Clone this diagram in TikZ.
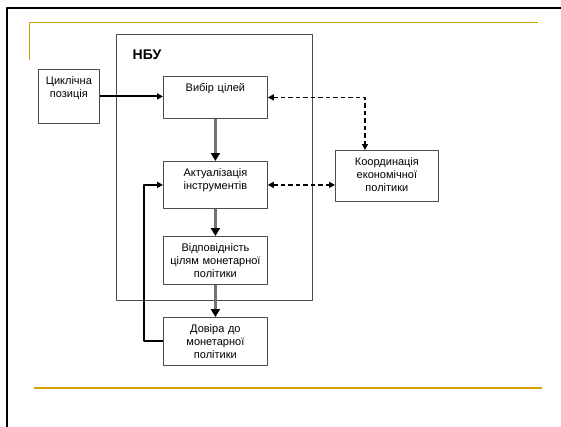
\documentclass[tikz,border=0pt]{standalone}
\usepackage{fontspec}
\setmainfont{Liberation Sans}
\usetikzlibrary{arrows.meta,shadows}
\definecolor{zoloto}{RGB}{212,160,0}
\tikzset{
  blok/.style={draw=black!70, line width=.8pt, fill=white, anchor=north west, align=center,
    inner sep=4pt, text height=11pt, font=\fontsize{11}{13.2}\selectfont,
    drop shadow={shadow xshift=1pt, shadow yshift=-1pt, fill=black!35, opacity=1}},
  suvora/.style={-{Triangle[length=6pt,width=6pt]}, line width=2pt},
  sira/.style={-{Triangle[length=8pt,width=9pt,color=black]}, draw=black!55, line width=2.2pt},
  punktyr/.style={{Triangle[length=6pt,width=6pt]}-{Triangle[length=6pt,width=6pt]}, line width=1.3pt, dash pattern=on 4.5pt off 3pt}
}
\begin{document}
\begin{tikzpicture}[x=1pt,y=-1pt,line join=round]
  \useasboundingbox (0,0) rectangle (561,426);
  %Рамка
  \draw[line width=2.5pt] (7,427)--(7,8)--(562,8);
  \draw[zoloto,line width=1pt] (29,60)--(29,22)--(538,22);
  \draw[zoloto,line width=2pt] (34,388)--(542,388);
  %НБУ
  \node[draw=black!70, line width=.8pt, minimum width=196pt, minimum height=266pt, inner sep=0pt, anchor=north west] (nbu) at (116,34) {};
  \node[font=\bfseries\fontsize{14}{16}\selectfont] (nbu-nazva) at (147,55) {НБУ};
  %Блоки
  \node[blok, text width=53pt, text depth=35pt] (cykl) at (38,69) {Циклічна\\позиція};
  \node[blok, text width=96pt, text depth=23pt] (vybir) at (163,76) {Вибір цілей};
  \node[blok, text width=96pt, text depth=28pt] (aktual) at (163,161) {Актуалізація\\інструментів};
  \node[blok, text width=96pt, text depth=29pt] (vidp) at (163,236) {Відповідність\\цілям монетарної\\політики};
  \node[blok, text width=96pt, text depth=29pt] (dovira) at (163,317) {Довіра до\\монетарної\\політики};
  \node[blok, text width=95pt, text depth=32pt] (koord) at (335,150) {Координація\\економічної\\політики};
  %Стрілки
  \draw[suvora] (cykl.east)--(cykl.east-|vybir.west);
  \draw[sira] (vybir.south)--(aktual.north);
  \draw[sira] (aktual.south)--(vidp.north);
  \draw[sira] (vidp.south)--(dovira.north);
  \draw[suvora] (dovira.west)--++(-19,0)|-(aktual.west);
  \draw[punktyr] (vybir.east)-|([xshift=30pt]koord.north west);
  \draw[punktyr] (aktual.east)--(aktual.east-|koord.west);
\end{tikzpicture}
\end{document}
